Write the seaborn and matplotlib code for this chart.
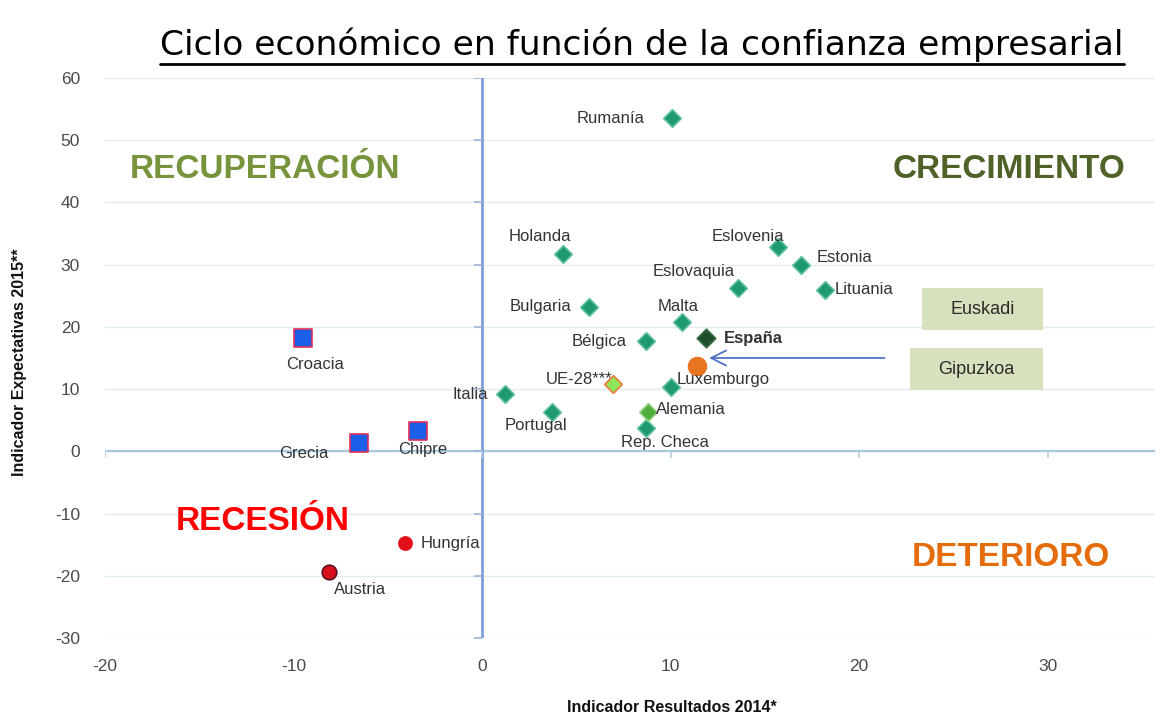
import numpy as np
import pandas as pd
import matplotlib.pyplot as plt
import seaborn as sns
from matplotlib.patches import Rectangle
from matplotlib.lines import Line2D

# datos
paises = ['Rumanía', 'Holanda', 'Eslovenia', 'Estonia', 'Eslovaquia', 'Lituania',
          'Bulgaria', 'Malta', 'Bélgica', 'España', 'UE-28***', 'Luxemburgo',
          'Italia', 'Portugal', 'Alemania', 'Rep. Checa',
          'Croacia', 'Grecia', 'Chipre', 'Hungría', 'Austria']
resultados_2014 = [10.1, 4.3, 15.7, 16.9, 13.6, 18.2,
                   5.7, 10.6, 8.7, 11.9, 6.95, 10.0,
                   1.2, 3.7, 8.8, 8.7,
                   -9.5, -6.5, -3.4, -4.1, -8.1]
expectativas_2015 = [53.5, 31.7, 32.8, 29.9, 26.2, 26.0,
                     23.2, 20.8, 17.7, 18.2, 10.8, 10.3,
                     9.2, 6.4, 6.4, 3.7,
                     18.2, 1.3, 3.3, -14.8, -19.4]
grupo = ['crec', 'crec', 'crec', 'crec', 'crec', 'crec',
         'crec', 'crec', 'crec', 'espana', 'ue', 'crec',
         'crec', 'crec', 'alemania', 'crec',
         'recup', 'recup', 'recup', 'reces', 'austria']

gipuzkoa_x = [11.4]
gipuzkoa_y = [13.7]

cuadrantes = ['RECUPERACIÓN', 'CRECIMIENTO', 'RECESIÓN', 'DETERIORO']

df = pd.DataFrame({'pais': paises, 'x': resultados_2014,
                   'y': expectativas_2015, 'grupo': grupo})

# estilos por grupo
estilos = {
    'crec': dict(marker='D', color='#1f9a6e', edgecolor='#5cc0a0', s=80),
    'espana': dict(marker='D', color='#1d4f2a', edgecolor='#3a6e45', s=90),
    'ue': dict(marker='D', color='#8ee65a', edgecolor='#f07a3a', s=80),
    'alemania': dict(marker='D', color='#4fae3c', edgecolor='#8fd080', s=80),
    'recup': dict(marker='s', color='#1c5ee8', edgecolor='#e0305a', s=150),
    'reces': dict(marker='o', color='#e3101c', edgecolor='#e3101c', s=90),
    'austria': dict(marker='o', color='#d8101c', edgecolor='#5a1020', s=110),
}

# desplazamiento de etiquetas (px), alineacion
etiquetas = {
    'Rumanía': (-28, 0, 'right'), 'Holanda': (-23, 18, 'center'),
    'Eslovenia': (-30, 11, 'center'), 'Estonia': (16, 8, 'left'),
    'Eslovaquia': (-45, 17, 'center'), 'Lituania': (10, 0, 'left'),
    'Bulgaria': (-18, 0, 'right'), 'Malta': (-4, 15, 'center'),
    'Bélgica': (-19, 0, 'right'), 'España': (18, 0, 'left'),
    'UE-28***': (-34, 5, 'center'), 'Luxemburgo': (6, 8, 'left'),
    'Italia': (-17, 0, 'right'), 'Portugal': (-16, -14, 'center'),
    'Alemania': (8, 2, 'left'), 'Rep. Checa': (19, -14, 'center'),
    'Croacia': (12, -26, 'center'), 'Grecia': (-56, -10, 'center'),
    'Chipre': (5, -19, 'center'), 'Hungría': (16, 0, 'left'),
    'Austria': (31, -17, 'center'),
}

sns.set_theme(style='white')
plt.rcParams['font.family'] = ['Liberation Sans', 'DejaVu Sans']
plt.rcParams['axes.unicode_minus'] = False

fig = plt.figure(figsize=(11.74, 7.22), dpi=100)
ax = fig.add_axes([105 / 1174, 1 - 638 / 722, 1050 / 1174, 560 / 722])
ax.set_xlim(-20, 35.7)
ax.set_ylim(-30, 60)
xticks = [-20, -10, 0, 10, 20, 30]
yticks = list(range(-30, 61, 10))
ax.set_xticks(xticks)
ax.set_yticks(yticks)
for s in ax.spines.values():
    s.set_visible(False)
ax.tick_params(axis='both', length=0, labelsize=12.5, labelcolor='#4a4a4a')
ax.tick_params(axis='y', pad=18)
ax.tick_params(axis='x', pad=15)
ax.yaxis.grid(True, color='#e2ebef', lw=1)
ax.xaxis.grid(False)

# ejes cruzando en el origen
ax.axhline(0, color='#a7c9dd', lw=1.6, zorder=1)
ax.axvline(0, color='#7d9fdc', lw=2, zorder=1)
ax.plot([0] * len(yticks), yticks, ls='', marker=0, ms=6, mew=1.2,
        color='#9fb5d8', zorder=1)
ax.plot(xticks, [0] * len(xticks), ls='', marker=3, ms=5, mew=1.2,
        color='#b5cfe0', zorder=1)

for g, st in estilos.items():
    sub = df[df['grupo'] == g]
    sns.scatterplot(data=sub, x='x', y='y', ax=ax, linewidth=1.2, zorder=3,
                    legend=False, **st)

sns.scatterplot(x=gipuzkoa_x, y=gipuzkoa_y, ax=ax, marker='o', color='#e87420',
                edgecolor='#e87420', s=170, zorder=4, legend=False)

for _, r in df.iterrows():
    dx, dy, ha = etiquetas[r['pais']]
    ax.annotate(r['pais'], (r['x'], r['y']), xytext=(dx, dy),
                textcoords='offset pixels', ha=ha, va='center',
                fontsize=12, color='#333333',
                fontweight='bold' if r['pais'] == 'España' else 'normal',
                zorder=5)

# flecha Gipuzkoa
ax.annotate('', xy=(gipuzkoa_x[0] + 0.5, 15.0), xytext=(21.5, 15.0),
            arrowprops=dict(arrowstyle='->,head_length=0.9,head_width=0.45',
                            color='#4f72c8', lw=1.3), zorder=4)

ax.set_xlabel('Indicador Resultados 2014*', fontsize=11.5, fontweight='bold',
              color='#111111')
ax.set_ylabel('Indicador Expectativas 2015**', fontsize=11.5, fontweight='bold',
              color='#111111')
ax.xaxis.set_label_coords((672 - 105) / 1050, (638 - 700) / 560)
ax.yaxis.set_label_coords((27 - 105) / 1050, (638 - 362) / 560)

# rotulos de cuadrantes
narrow = ['Liberation Sans Narrow', 'Liberation Sans', 'DejaVu Sans']
quad_pos = [(265, 170, '#77933c'), (1009, 170, '#4f6228'),
            (263, 521, '#ff0000'), (1011, 557, '#e46c0a')]
for txt, (px, py, c) in zip(cuadrantes, quad_pos):
    fig.text(px / 1174, 1 - py / 722, txt, ha='center', va='center',
             fontsize=24, fontweight='bold', color=c, family=narrow)

# cajas Euskadi / Gipuzkoa
for txt, (x0, y0, x1, y1) in zip(['Euskadi', 'Gipuzkoa'],
                                 [(922, 288, 1043, 330), (910, 348, 1043, 390)]):
    fig.patches.append(Rectangle((x0 / 1174, 1 - y1 / 722), (x1 - x0) / 1174,
                                 (y1 - y0) / 722, transform=fig.transFigure,
                                 facecolor='#d7e1bd', edgecolor='none'))
    fig.text((x0 + x1) / 2 / 1174, 1 - (y0 + y1) / 2 / 722, txt, ha='center',
             va='center', fontsize=13, color='#2a2a2a')

# titulo subrayado
titulo = fig.text(642 / 1174, 1 - 45 / 722,
                  'Ciclo económico en función de la confianza empresarial',
                  ha='center', va='center', fontsize=24.8, color='black',
                  family=['DejaVu Sans'])
fig.canvas.draw()
bb = titulo.get_window_extent().transformed(fig.transFigure.inverted())
fig.lines.append(Line2D([bb.x0, bb.x1], [1 - 64 / 722] * 2, color='black',
                        lw=2, transform=fig.transFigure))

fig.savefig('out.png', dpi=100)
